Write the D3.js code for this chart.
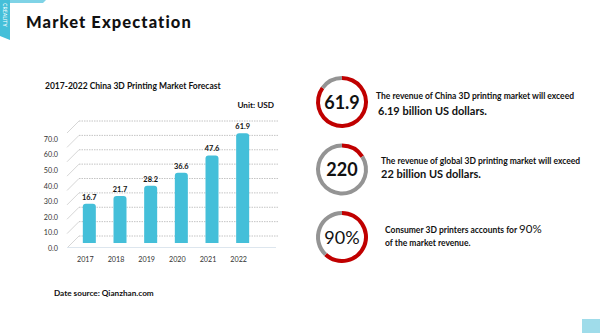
<!DOCTYPE html>
<html>
<head>
<meta charset="utf-8">
<script src="https://cdn.jsdelivr.net/npm/d3@7"></script>
<style>
  html, body { margin: 0; padding: 0; background: #fff; }
  svg { display: block; font-family: Lato, 'Open Sans', sans-serif; }
</style>
</head>
<body>
<svg id="chart" width="600" height="333"></svg>
<script>
// chart data
var years = ["2017", "2018", "2019", "2020", "2021", "2022"];
var revenue = [16.7, 21.7, 28.2, 36.6, 47.6, 61.9];
var tickValues = [0, 10, 20, 30, 40, 50, 60, 70];
var gridValues = [0, 10, 20, 30, 40, 50, 60, 70, 80];

// ring callouts on the right
var ringLabels = ["61.9", "220", "90%"];
var ringShares = [0.85, 0.16, 0.62];
var ringLine1 = [
    "The revenue of China 3D printing market will exceed",
    "The revenue of global 3D printing market will exceed",
    "Consumer 3D printers accounts for "
];
var ringLine2 = [
    "6.19 billion US dollars.",
    "22 billion US dollars.",
    "of the market revenue."
];

var cyan = "#44bfd9";
var red = "#c00000";
var grey = "#949494";

var svg = d3.select("#chart");

// logo ribbon + top strip
svg.append("path")
   .attr("d", "M0,0 L10,0 L10,40 L0,36 Z")
   .style("fill", cyan);
svg.append("path")
   .attr("d", "M10,0 L46,0 L43,3 L10,3 Z")
   .style("fill", "#7fd3e6");
svg.append("text")
   .attr("transform", "translate(3,3) rotate(90)")
   .attr("font-size", 5.2)
   .style("fill", "white")
   .text("CREALITY");

// bottom-right corner block
svg.append("rect")
   .attr("x", 582).attr("y", 319)
   .attr("width", 18).attr("height", 14)
   .style("fill", "#9fdcea");

// page title
svg.append("text")
   .attr("x", 26).attr("y", 28)
   .attr("font-size", 16.5)
   .attr("font-weight", 900)
   .attr("letter-spacing", 1.1)
   .style("fill", "#111")
   .text("Market  Expectation");

// ---------- bar chart ----------
svg.append("text")
   .attr("x", 45).attr("y", 89)
   .attr("font-size", 8.5)
   .attr("font-weight", "bold")
   .style("fill", "#111")
   .text("2017-2022 China 3D Printing Market Forecast");

svg.append("text")
   .attr("x", 274).attr("y", 108)
   .attr("text-anchor", "end")
   .attr("font-size", 8.2)
   .attr("font-weight", "bold")
   .style("fill", "#111")
   .text("Unit: USD");

var depthX = 12, depthY = 12;
var wallLeft = 79, wallRight = 278;

// back wall scale, front label scale, bar scale
var yBack = d3.scaleLinear().domain([0, 80]).range([236, 121]);
var yLabel = d3.scaleLinear().domain([0, 70]).range([248, 139]);
var barOffset = 8.5;
var yBar = d3.scaleLinear().domain([-barOffset, 70]).range([243, 243 - 78.5 * 1.56]);

var x = d3.scaleBand().domain(years).range([74, 258]).paddingInner(0.576).paddingOuter(0.288);

var grid = svg.append("g");
grid.selectAll("line.wall")
    .data(gridValues)
    .enter().append("line")
    .attr("class", "wall")
    .attr("x1", wallLeft).attr("x2", wallRight)
    .attr("y1", function (d) { return yBack(d); })
    .attr("y2", function (d) { return yBack(d); })
    .style("stroke", "#b5b5b5")
    .style("stroke-width", 0.8)
    .style("stroke-dasharray", "1.5,1");

grid.selectAll("line.side")
    .data(gridValues)
    .enter().append("line")
    .attr("class", "side")
    .attr("x1", wallLeft - depthX).attr("x2", wallLeft)
    .attr("y1", function (d) { return yBack(d) + depthY; })
    .attr("y2", function (d) { return yBack(d); })
    .style("stroke", "#c4c4c4")
    .style("stroke-width", 0.7);

// floor edge
svg.append("line")
   .attr("x1", wallLeft - depthX).attr("x2", wallRight - 2)
   .attr("y1", 247.5).attr("y2", 247.5)
   .style("stroke", "#dde6ee")
   .style("stroke-width", 1);

// y axis labels
var yAxis = d3.axisLeft(yLabel).tickValues(tickValues).tickSize(0).tickPadding(0)
              .tickFormat(d3.format(".1f"));
var yg = svg.append("g").attr("transform", "translate(58,0)").call(yAxis);
yg.select(".domain").remove();
yg.selectAll("text")
  .attr("font-size", 7.2)
  .attr("font-family", "Lato, sans-serif")
  .style("fill", "#333");

// bars
svg.selectAll("path.bar")
   .data(revenue)
   .enter().append("path")
   .attr("class", "bar")
   .attr("d", function (d, i) {
       var x0 = x(years[i]), w = x.bandwidth();
       var top = yBar(d), bottom = yBar(-barOffset), r = 3;
       return "M" + x0 + "," + bottom +
              "V" + (top + r) +
              "Q" + x0 + "," + top + " " + (x0 + r) + "," + top +
              "H" + (x0 + w - r) +
              "Q" + (x0 + w) + "," + top + " " + (x0 + w) + "," + (top + r) +
              "V" + bottom + "Z";
   })
   .style("fill", cyan);

svg.selectAll("text.value")
   .data(revenue)
   .enter().append("text")
   .attr("class", "value")
   .attr("x", function (d, i) { return x(years[i]) + x.bandwidth() / 2; })
   .attr("y", function (d) { return yBar(d) - 4; })
   .attr("text-anchor", "middle")
   .attr("font-size", 7.4)
   .attr("font-weight", "bold")
   .style("fill", "#111")
   .text(function (d) { return d.toFixed(1); });

// x labels
var xAxis = d3.axisBottom(x).tickSize(0).tickPadding(0);
var xg = svg.append("g").attr("transform", "translate(-4,262)").call(xAxis);
xg.select(".domain").remove();
xg.selectAll("text")
  .attr("dy", 0)
  .attr("font-size", 7.2)
  .attr("font-family", "Lato, sans-serif")
  .style("fill", "#333");

svg.append("text")
   .attr("x", 54).attr("y", 296)
   .attr("font-size", 8.2)
   .attr("font-weight", "bold")
   .style("fill", "#111")
   .text("Date source: Qianzhan.com");

// ---------- rings ----------
var ringY = d3.scalePoint().domain(ringLabels).range([102, 237]);
var arc = d3.arc().innerRadius(22).outerRadius(26);

ringLabels.forEach(function (lab, i) {
    var g = svg.append("g").attr("transform", "translate(342," + ringY(lab) + ")");
    var cut = ringShares[i] * 2 * Math.PI;
    g.append("path")
     .attr("d", arc({startAngle: 0, endAngle: cut}))
     .style("fill", red);
    g.append("path")
     .attr("d", arc({startAngle: cut, endAngle: 2 * Math.PI}))
     .style("fill", grey);
    g.append("text")
     .attr("y", 6.5)
     .attr("text-anchor", "middle")
     .attr("font-size", 18)
     .attr("font-weight", i == 2 ? "normal" : "bold")
     .style("fill", "#111")
     .text(lab);
});

var textX = [376, 381, 385];
var line1Y = [99, 164, 233];
var line2Y = [115, 178, 246];

ringLine1.forEach(function (t, i) {
    var tx = svg.append("text")
        .attr("x", textX[i]).attr("y", line1Y[i])
        .attr("font-size", 8.5)
        .attr("font-weight", "bold")
        .style("fill", "#111")
        .text(t);
    if (i == 2) {
        tx.append("tspan").attr("font-size", 11.5).attr("font-weight", "normal").text("90%");
    }
    svg.append("text")
       .attr("x", i == 0 ? textX[i] + 2 : textX[i]).attr("y", line2Y[i])
       .attr("font-size", i == 2 ? 8.5 : 11)
       .attr("font-weight", "bold")
       .style("fill", "#111")
       .text(ringLine2[i]);
});
</script>
</body>
</html>
